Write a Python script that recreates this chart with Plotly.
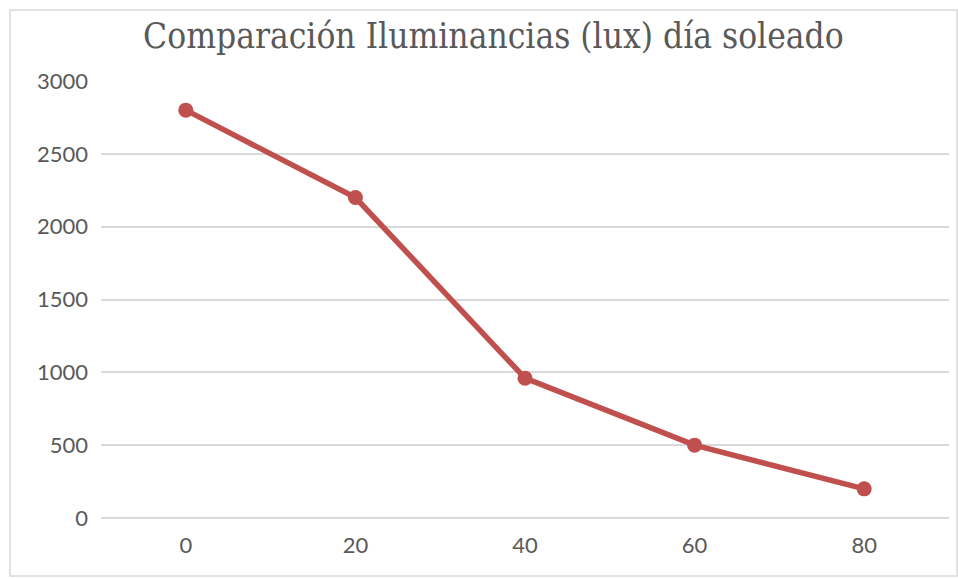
import plotly.graph_objects as go

# Ángulo / posición de medida y su iluminancia en un día soleado
categorias = ["0", "20", "40", "60", "80"]
iluminancia = [2800, 2200, 960, 500, 200]
y_ticks = [0, 500, 1000, 1500, 2000, 2500, 3000]

W, H = 958, 579
L, R, T, B = 101, 9, 81, 61  # margins in px around the plot area

fig = go.Figure()
fig.add_trace(go.Scatter(
    x=categorias,
    y=iluminancia,
    mode="lines+markers",
    line=dict(color="#C0504D", width=5.5),
    marker=dict(color="#C0504D", size=15),
    hoverinfo="x+y",
    showlegend=False,
))

tick_font = dict(family="Lato, Open Sans, sans-serif", size=22, color="#595959")

fig.update_layout(
    width=W,
    height=H,
    margin=dict(l=L, r=R, t=T, b=B),
    paper_bgcolor="white",
    plot_bgcolor="white",
    title=dict(
        text="Comparación Iluminancias (lux) día soleado",
        x=0.515, xanchor="center",
        y=1 - 36 / H, yanchor="middle",
        font=dict(family="DejaVu Serif Condensed, Liberation Serif, serif", size=35, color="#595959"),
    ),
    xaxis=dict(
        type="category",
        range=[-0.5, 4.5],
        showgrid=False,
        showline=False,
        ticks="",
        tickfont=tick_font,
        ticklabelstandoff=12,
    ),
    yaxis=dict(
        range=[0, 3000],
        tickvals=y_ticks,
        showgrid=True,
        gridcolor="#D9D9D9",
        gridwidth=1.5,
        zeroline=True,
        zerolinecolor="#D9D9D9",
        zerolinewidth=1.5,
        showline=False,
        ticks="",
        tickfont=tick_font,
        ticklabelstandoff=12,
    ),
    shapes=[
        dict(type="rect", xref="paper", yref="paper",
             x0=-(L - 10) / (W - L - R), x1=1 + (R - 1) / (W - L - R),
             y0=-(B - 3) / (H - T - B), y1=1 + (T - 10) / (H - T - B),
             line=dict(color="#D9D9D9", width=1.5), layer="below"),
    ],
)

fig.write_html("out.html")
